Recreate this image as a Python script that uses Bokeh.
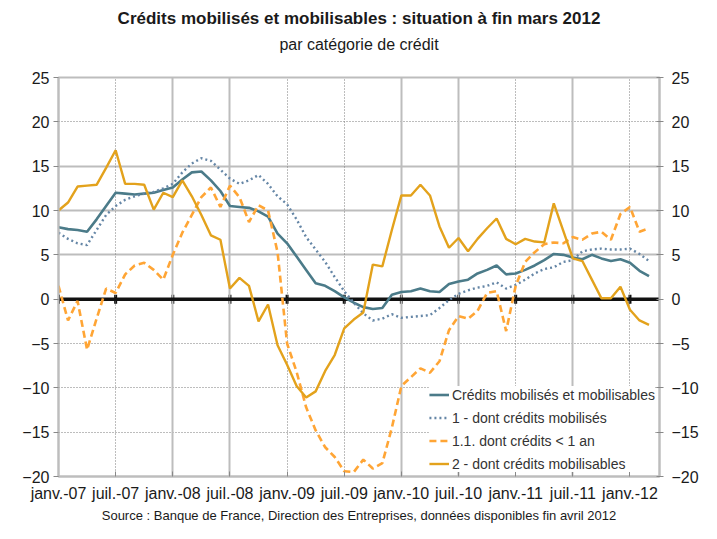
import math
from bokeh.plotting import figure
from bokeh.models import (Range1d, FixedTicker, LinearAxis, Title, Grid, Span,
                          Legend, LegendItem)
from bokeh.embed import file_html
from bokeh.resources import INLINE

# ---- data (monthly, janv.-07 .. mars-12) ----
months = list(range(63))
tick_pos = [0, 6, 12, 18, 24, 30, 36, 42, 48, 54, 60]
tick_labels = ["janv.-07", "juil.-07", "janv.-08", "juil.-08", "janv.-09", "juil.-09",
               "janv.-10", "juil.-10", "janv.-11", "juil.-11", "janv.-12"]
y_ticks = [-20, -15, -10, -5, 0, 5, 10, 15, 20, 25]

total = [8.1, 7.9, 7.8, 7.6, 9.0, 10.5, 12.0, 11.9, 11.8, 11.9, 12.0, 12.3, 12.6,
         13.5, 14.3, 14.4, 13.4, 12.2, 10.5, 10.4, 10.3, 9.9, 9.3, 7.4, 6.3, 4.8,
         3.3, 1.8, 1.5, 0.9, 0.2, -0.4, -0.9, -1.1, -1.0, 0.5, 0.8, 0.9, 1.2, 0.9,
         0.8, 1.7, 2.0, 2.2, 2.9, 3.3, 3.8, 2.8, 2.9, 3.3, 3.8, 4.4, 5.1, 5.0, 4.7,
         4.5, 5.0, 4.6, 4.3, 4.5, 4.1, 3.2, 2.6]
mobilises = [7.5, 6.8, 6.3, 6.1, 7.8, 9.5, 10.5, 11.2, 11.6, 11.9, 12.1, 12.5, 13.0,
             14.3, 15.3, 15.9, 15.6, 14.6, 13.6, 13.0, 13.4, 14.0, 13.0, 11.6, 10.7,
             9.0, 7.0, 5.6, 4.2, 2.5, 0.9, -0.4, -1.6, -2.4, -2.2, -1.7, -2.1, -2.0,
             -1.9, -1.8, -1.0, -0.1, 0.6, 1.0, 1.3, 1.5, 1.9, 1.2, 1.6, 2.2, 2.9, 3.4,
             3.6, 4.2, 4.4, 5.4, 5.6, 5.7, 5.6, 5.6, 5.7, 5.1, 4.3]
moins_1an = [1.5, -2.4, -0.2, -5.7, -2.2, 1.2, 0.7, 2.8, 3.8, 4.1, 3.3, 2.2, 5.0,
             7.5, 9.5, 11.5, 12.6, 10.4, 12.8, 11.5, 8.7, 10.6, 10.0, 5.3, -5.0,
             -8.2, -12.2, -14.8, -16.7, -17.8, -19.4, -19.5, -18.1, -19.1, -18.5,
             -14.5, -9.8, -8.8, -7.8, -8.3, -7.0, -3.5, -1.9, -2.2, -1.3, 0.7, 0.9,
             -3.6, 1.5, 4.2, 5.3, 6.2, 6.4, 6.3, 7.0, 6.7, 7.4, 7.6, 6.7, 9.6, 10.4,
             7.6, 8.0]
mobilisables = [10.0, 10.9, 12.7, 12.8, 12.9, 14.8, 16.8, 13.0, 13.0, 12.9, 10.1, 12.0,
                11.5, 13.4, 11.6, 9.5, 7.2, 6.7, 1.2, 2.4, 1.5, -2.5, -0.6, -5.2, -7.4,
                -9.8, -11.1, -10.4, -8.1, -6.3, -3.3, -2.3, -1.5, 3.9, 3.7, 7.8, 11.7,
                11.7, 12.9, 11.7, 8.2, 5.8, 6.9, 5.4, 6.8, 8.0, 9.1, 6.8, 6.2, 6.8, 6.5,
                6.4, 10.8, 7.7, 4.6, 4.3, 2.2, 0.1, 0.1, 1.4, -1.2, -2.4, -2.9]

series_names = ["Crédits mobilisés et mobilisables", "1 - dont crédits mobilisés",
                "1.1. dont crédits < 1 an", "2 - dont crédits mobilisables"]
title_text = "Crédits mobilisés et mobilisables : situation à fin mars 2012"
subtitle_text = "par catégorie de crédit"
source_text = ("Source : Banque de France, Direction des Entreprises, "
               "données disponibles fin avril 2012")

FONT = "Liberation Sans"
TXT = "#1a1a1a"
GRID_SOLID = "#bdbdbd"
GRID_DOT = "#7a7a7a"

W, H = 701, 523
p = figure(width=W, height=H, x_range=Range1d(0, 63.1), y_range=Range1d(-20, 25),
           output_backend="svg", toolbar_location=None,
           min_border_left=58, min_border_right=37, min_border_top=75,
           min_border_bottom=45)
p.outline_line_color = GRID_SOLID
p.outline_line_width = 2
p.background_fill_color = "white"
p.border_fill_color = "white"
p.xgrid.visible = False
p.ygrid.visible = False

# titles (first added = closest to the frame); a blank spacer keeps the gap
p.add_layout(Title(text=" ", align="center", text_font=FONT, text_font_size="12px",
                   standoff=9), "above")
p.add_layout(Title(text=subtitle_text, align="center", text_font=FONT,
                   text_font_size="16px", text_font_style="normal", text_color=TXT,
                   standoff=0), "above")
p.add_layout(Title(text=title_text, align="center", text_font=FONT,
                   text_font_size="17px", text_font_style="bold", text_color=TXT,
                   standoff=12), "above")
p.add_layout(Title(text=source_text, align="center", text_font=FONT,
                   text_font_size="13px", text_font_style="normal", text_color=TXT,
                   standoff=2), "below")

# x axis
xa = p.xaxis[0]
xa.ticker = FixedTicker(ticks=tick_pos)
xa.major_label_overrides = {t: l for t, l in zip(tick_pos, tick_labels)}
xa.major_label_text_font = FONT
xa.major_label_text_font_size = "16px"
xa.major_label_text_color = TXT
xa.major_tick_in = 5
xa.major_tick_out = 0
xa.major_tick_line_color = "#888888"
xa.minor_tick_line_color = None
xa.axis_line_color = GRID_SOLID
xa.axis_line_width = 2
xa.major_label_standoff = 8

# left y axis
ya = p.yaxis[0]
ya.ticker = FixedTicker(ticks=y_ticks)
ya.major_label_text_font = FONT
ya.major_label_text_font_size = "16px"
ya.major_label_text_color = TXT
ya.major_tick_in = 0
ya.major_tick_out = 5
ya.major_tick_line_color = "#888888"
ya.minor_tick_line_color = None
ya.axis_line_color = GRID_SOLID
ya.axis_line_width = 2
ya.major_label_standoff = 4

# right y axis
ra = LinearAxis(ticker=FixedTicker(ticks=y_ticks))
ra.major_label_text_font = FONT
ra.major_label_text_font_size = "16px"
ra.major_label_text_color = TXT
ra.major_tick_in = 3
ra.major_tick_out = 4
ra.major_tick_line_color = "#888888"
ra.minor_tick_line_color = None
ra.axis_line_color = GRID_SOLID
ra.axis_line_width = 2
ra.major_label_standoff = 8
p.add_layout(ra, "right")

# grids
solid_h = [v for v in y_ticks if 0 < v < 20]
dot_h = [v for v in y_ticks if v not in solid_h and v not in (0, 25, -20)]
solid_v = [tick_pos[i] for i in (2, 3, 6, 7, 9)]
dot_v = [t for t in tick_pos if t not in solid_v and t != 0]
p.add_layout(Grid(dimension=1, ticker=FixedTicker(ticks=solid_h),
                  grid_line_color=GRID_SOLID, grid_line_width=2))
p.add_layout(Grid(dimension=1, ticker=FixedTicker(ticks=dot_h),
                  grid_line_color=GRID_DOT, grid_line_width=1, grid_line_dash="1 2"))
p.add_layout(Grid(dimension=0, ticker=FixedTicker(ticks=solid_v),
                  grid_line_color=GRID_SOLID, grid_line_width=2))
p.add_layout(Grid(dimension=0, ticker=FixedTicker(ticks=dot_v),
                  grid_line_color=GRID_DOT, grid_line_width=1, grid_line_dash="1 2"))

# zero line with its tick marks
p.add_layout(Span(location=0, dimension="width", line_color="#111111", line_width=3.5,
                  level="underlay"))
zt = p.scatter(x=tick_pos, y=[0] * len(tick_pos), marker="dash", angle=math.pi / 2,
               size=9, line_width=3, line_color="#111111")
zt.level = "underlay"

# series
r1 = p.line(months, total, line_color="#4b7b89", line_width=2.6)
r2 = p.line(months, mobilises, line_color="#6586a6", line_width=2.4, line_dash="2 3")
r3 = p.line(months, moins_1an, line_color="#ffa535", line_width=2.6, line_dash="7 4")
r4 = p.line(months, mobilisables, line_color="#e3a21c", line_width=2.4)

legend = Legend(items=[LegendItem(label=n, renderers=[r]) for n, r in
                       zip(series_names, [r1, r2, r3, r4])],
                location="bottom_right", margin=4, padding=4, spacing=6,
                glyph_width=20, glyph_height=17, label_height=17, label_standoff=3,
                label_text_font=FONT, label_text_font_size="14px",
                label_text_color="#333333", border_line_color=None,
                background_fill_color="white", background_fill_alpha=1.0)
p.add_layout(legend)

open("out.html", "w").write(file_html(p, INLINE))
